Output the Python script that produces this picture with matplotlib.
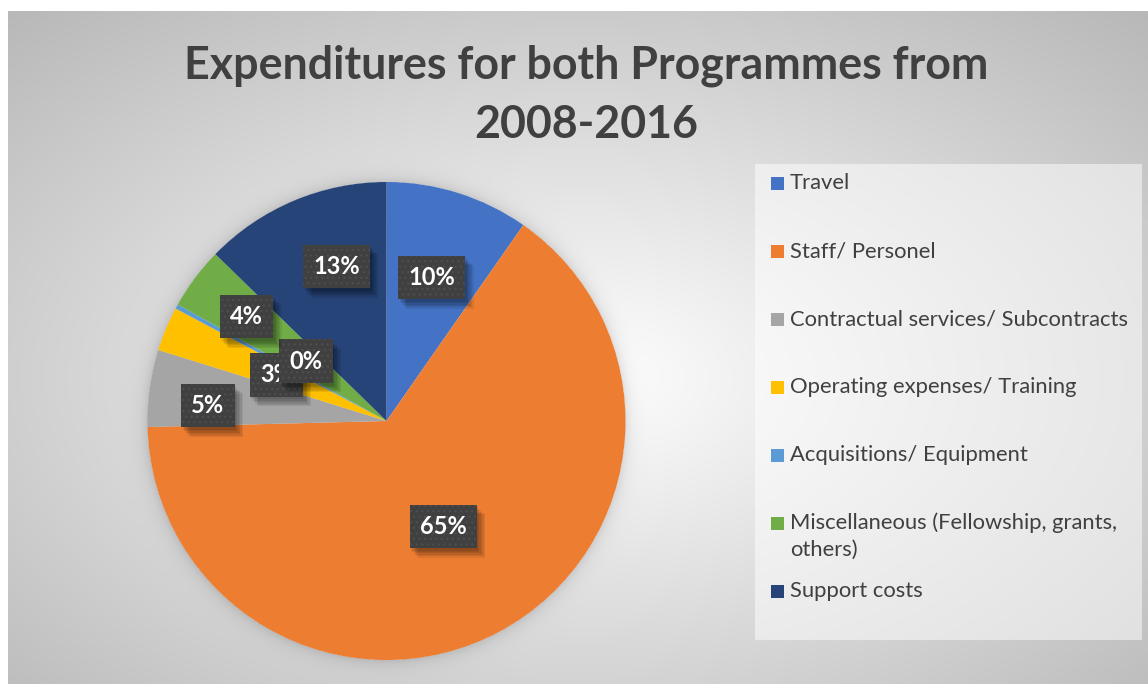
import numpy as np
import matplotlib.pyplot as plt
import matplotlib.patheffects as pe
from matplotlib.patches import Rectangle

# Expenditure shares (percent of total), 2008-2016
categories = [
    "Travel",
    "Staff/ Personel",
    "Contractual services/ Subcontracts",
    "Operating expenses/ Training",
    "Acquisitions/ Equipment",
    "Miscellaneous (Fellowship, grants,\nothers)",
    "Support costs",
]
shares = [9.7, 64.9, 5.2, 3.0, 0.3, 4.2, 12.7]
colors = ["#4472C4", "#ED7D31", "#A5A5A5", "#FFC000", "#5B9BD5", "#70AD47", "#264478"]

# where each data label sits: fraction of the radius, angular nudge (deg, clockwise)
label_radius = [0.63, 0.50, 0.75, 0.50, 0.42, 0.73, 0.68]
label_nudge = [0, 0, -3, 0, 8, 0, 5]

W, H = 1148, 685
plt.rcParams['font.family'] = ['Lato', 'DejaVu Sans']
plt.rcParams['hatch.linewidth'] = 0.9

fig = plt.figure(figsize=(W / 100, H / 100), dpi=100)
fig.patch.set_facecolor('white')

# background: radial grey gradient over the chart area, with a soft glow round the pie
bg = fig.add_axes([0, 0, 1, 1])
x0, x1, y0, y1 = 8, W, 11, 684
xs = np.arange(x0, x1) + 0.5
ys = np.arange(y0, y1) + 0.5
X, Y = np.meshgrid(xs, ys)
cx, cy = (x0 + x1) / 2, (y0 + y1) / 2 + 30
d = np.sqrt(((X - cx) / ((x1 - x0) / 2)) ** 2 + ((Y - cy) / ((y1 - y0) / 2)) ** 2) / np.sqrt(2)
shade = 255 - 68 * np.clip(d, 0, 1.1)
pcx, pcy, R = 386.5, 421, 239
r = np.hypot(X - pcx, Y - pcy)
shade -= np.where(r > R, 26 * np.exp(-(r - R) / 7), 0)
img = np.clip(shade, 0, 255) / 255
bg.imshow(np.dstack([img, img, img]), extent=(x0, x1, y1, y0), interpolation='bilinear')
bg.set_xlim(0, W)
bg.set_ylim(H, 0)
bg.axis('off')

# legend panel
bg.add_patch(Rectangle((755, 164), 387, 476, facecolor='white', edgecolor='none', alpha=0.5))
entry_y = 183
for name, col in zip(categories, colors):
    bg.add_patch(Rectangle((771, entry_y - 6.5), 13, 13, facecolor=col, edgecolor='none'))
    for k, line in enumerate(name.split("\n")):
        bg.text(790, entry_y + 27 * k, line, fontsize=15.8, color='#404040', va='center', ha='left')
    entry_y += 68

# title
fig.text(586 / W, 1 - 66 / H, "Expenditures for both Programmes from", fontsize=32.2,
         fontweight='bold', color='#404040', ha='center', va='center')
fig.text(586 / W, 1 - 125 / H, "2008-2016", fontsize=32.2,
         fontweight='bold', color='#404040', ha='center', va='center')

# pie
ax = fig.add_axes([(pcx - R) / W, (H - pcy - R) / H, 2 * R / W, 2 * R / H])
wedges, _ = ax.pie(shares, colors=colors, startangle=90, counterclock=False, radius=1,
                   wedgeprops=dict(linewidth=0))
ax.set_xlim(-1, 1)
ax.set_ylim(-1, 1)
ax.axis('off')

# soft drop shadow built from a few faint offset copies (no Normal: only the shadow shows)
soft_shadow = [pe.SimplePatchShadow(offset=(o, -o - 1), shadow_rgbFace='black', alpha=0.08)
               for o in (1, 2, 3, 4, 5, 6)]

total = sum(shares)
for w, v, rf, nd in zip(wedges, shares, label_radius, label_nudge):
    mid = np.deg2rad((w.theta1 + w.theta2) / 2 - nd)
    lx, ly = rf * np.cos(mid), rf * np.sin(mid)
    txt = f"{100 * v / total:.0f}%"
    box = dict(boxstyle='square,pad=0.43', linewidth=0)
    s = ax.text(lx, ly, txt, fontsize=17, fontweight='bold', color='none',
                ha='center', va='center', bbox=dict(box, facecolor='black'))
    s.get_bbox_patch().set_path_effects(soft_shadow)
    ax.text(lx, ly, txt, fontsize=17, fontweight='bold', color='white',
            ha='center', va='center',
            bbox=dict(box, facecolor='#404040', edgecolor='#4e4e4e', hatch='...'))

fig.savefig('out.png', dpi=100, facecolor='white')
